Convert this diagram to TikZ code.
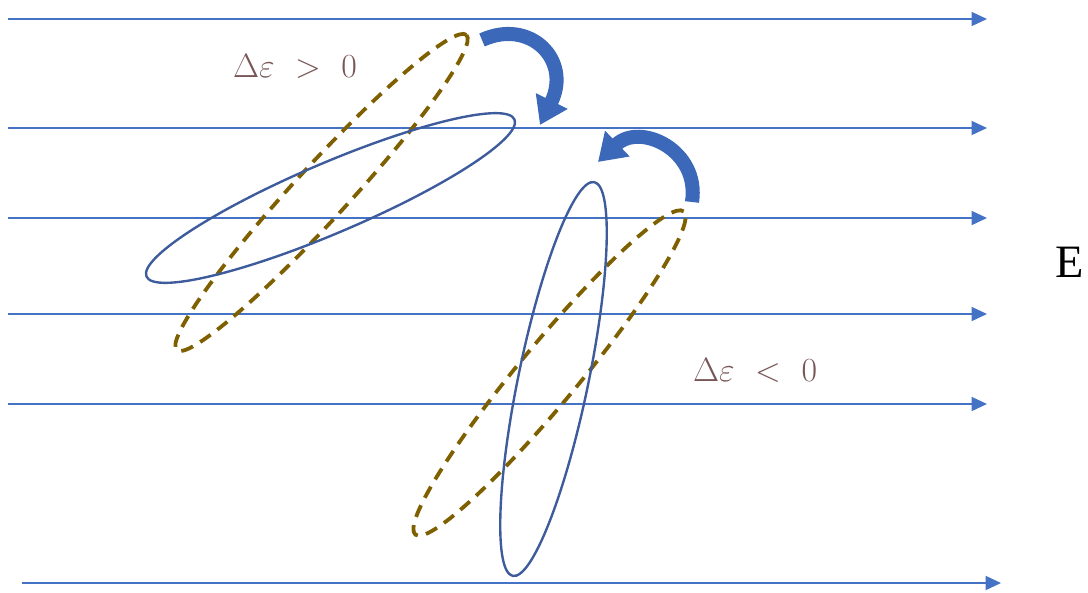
\RequirePackage{fix-cm}
\documentclass[tikz,border=0pt]{standalone}
\usepackage{fontspec}
\setmainfont{Liberation Serif}
\usetikzlibrary{arrows.meta}
\definecolor{fieldblue}{RGB}{68,114,196}
\definecolor{ellblue}{RGB}{62,92,156}
\definecolor{dashbrown}{RGB}{127,96,0}
\definecolor{labelbrown}{RGB}{120,86,86}
\definecolor{arrowblue}{RGB}{60,104,186}
\begin{document}
\begin{tikzpicture}[x=0.025cm,y=-0.025cm,
  field/.style={draw=fieldblue, line width=1.2pt, -{Triangle[length=11pt,width=10pt]}},
  solidell/.style={draw=ellblue, line width=1.7pt},
  dashell/.style={draw=dashbrown, line width=2.7pt, dash pattern=on 9pt off 6pt},
  turn/.style={draw=arrowblue, line width=10pt, -{Triangle[length=19pt,width=24pt]}},
  lab/.style={text=labelbrown, font=\fontsize{24}{29}\selectfont, inner sep=0pt}]
\useasboundingbox (0,0) rectangle (1088,593);
% field lines
\foreach \y/\n in {19/a,128/b,218/c,314/d,404/e}{
  \coordinate (s\n) at (8,\y);
  \coordinate (t\n) at (987,\y);
  \draw[field] (s\n) -- (t\n);
}
\coordinate (sf) at (22,583);
\coordinate (tf) at (1001,583);
\draw[field] (sf) -- (tf);
% ellipses
\draw[dashell, rotate around={47.4:(321.5,192.5)}] (321.5,192.5) ellipse [x radius=5.35cm, y radius=0.675cm];
\draw[solidell, rotate around={23.1:(330.5,198)}] (330.5,198) ellipse [x radius=5cm, y radius=0.875cm];
\draw[dashell, rotate around={50.3:(549.5,373)}] (549.5,373) ellipse [x radius=5.25cm, y radius=0.74cm];
\draw[solidell, rotate around={78.3:(553.5,379)}] (553.5,379) ellipse [x radius=5.025cm, y radius=0.875cm];
% turning arrows
\coordinate (r1s) at (482,40);
\coordinate (r1e) at (540,125);
\draw[turn] (r1s) .. controls (530,18) and (572,60) .. (r1e);
\coordinate (r2s) at (692,202);
\coordinate (r2e) at (598,162);
\draw[turn] (r2s) .. controls (700,150) and (640,122) .. (r2e);
% labels
\node[lab] (l1) at (295,66) {$\Delta\varepsilon\hspace{8pt}>\hspace{8pt}0$};
\node[lab] (l2) at (755,370) {$\Delta\varepsilon\hspace{8pt}<\hspace{8pt}0$};
\node[font=\fontsize{33}{38}\selectfont, inner sep=0pt] (E) at (1070,262) {E};
\end{tikzpicture}
\end{document}
